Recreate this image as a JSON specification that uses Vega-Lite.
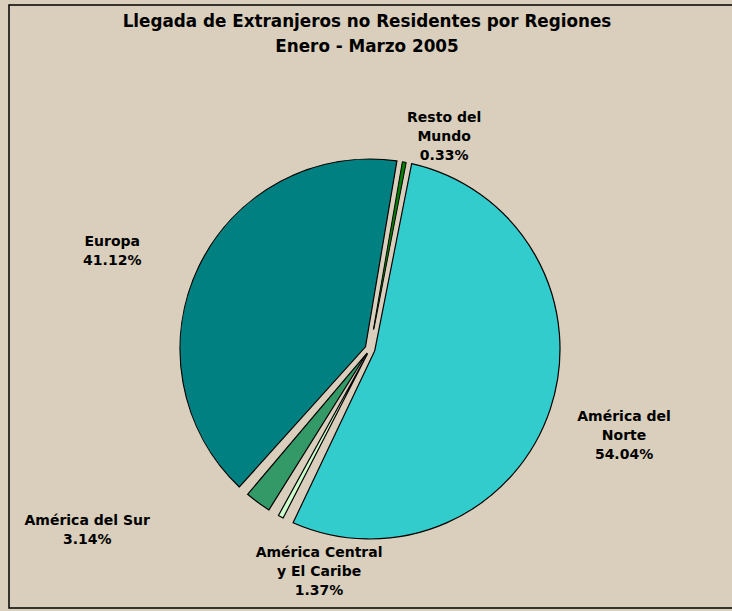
{
  "$schema": "https://vega.github.io/schema/vega-lite/v6.json",
  "autosize": {"type": "fit", "contains": "padding"},
  "width": 732,
  "height": 611,
  "padding": {"left": 8, "top": 4, "right": -10, "bottom": 2},
  "background": "#D9CFBC",
  "title": {
    "text": ["Llegada de Extranjeros no Residentes por Regiones", "Enero - Marzo 2005"],
    "font": "DejaVu Sans",
    "fontSize": 16.8,
    "fontWeight": "bold",
    "lineHeight": 25,
    "color": "#000000",
    "anchor": "middle",
    "offset": -52,
    "dx": -8
  },
  "data": {
    "values": [
      {"region": "América del Norte", "label": "América del|Norte", "value": 54.04, "ord": 1},
      {"region": "América Central y El Caribe", "label": "América Central|y El Caribe", "value": 1.37, "ord": 2},
      {"region": "América del Sur", "label": "América del Sur", "value": 3.14, "ord": 3},
      {"region": "Europa", "label": "Europa", "value": 41.12, "ord": 4},
      {"region": "Resto del Mundo", "label": "Resto del|Mundo", "value": 0.33, "ord": 5}
    ]
  },
  "transform": [
    {"calculate": "datum.label + '|' + format(datum.value, '.2f') + '%'", "as": "txt"}
  ],
  "layer": [
    {
      "data": {"values": [{"frame": 1}]},
      "mark": {"type": "rect", "fill": null, "stroke": "#000000", "strokeWidth": 1.5},
      "encoding": {}
    },
    {
      "mark": {"type": "arc", "outerRadius": 190, "innerRadius": 5, "padAngle": 0.058, "stroke": "#000000", "strokeWidth": 1.2, "strokeJoin": "miter", "xOffset": -5, "yOffset": 42.5},
      "encoding": {
        "theta": {"field": "value", "type": "quantitative", "stack": true, "scale": {"domain": [0, 100], "range": [0.192, 6.475]}},
        "order": {"field": "ord", "type": "quantitative"},
        "color": {
          "field": "region", "type": "nominal", "legend": null,
          "scale": {
            "domain": ["América del Norte", "América Central y El Caribe", "América del Sur", "Europa", "Resto del Mundo"],
            "range": ["#33CCCC", "#CCFFCC", "#339966", "#008080", "#008000"]
          }
        },
        "opacity": {"condition": {"test": "datum.region === 'Resto del Mundo'", "value": 0}, "value": 1}
      }
    },
    {
      "mark": {"type": "arc", "outerRadius": 190, "innerRadius": 20, "stroke": "#000000", "strokeWidth": 1, "strokeJoin": "miter", "xOffset": -5, "yOffset": 42.5},
      "encoding": {
        "theta": {"field": "value", "type": "quantitative", "stack": true},
        "order": {"field": "ord", "type": "quantitative"},
        "color": {"field": "region", "type": "nominal", "legend": null},
        "opacity": {"condition": {"test": "datum.region === 'Resto del Mundo'", "value": 1}, "value": 0}
      }
    },
    {
      "mark": {"type": "text", "radius": 263, "thetaOffset": -0.0572, "dx": -5, "dy": 42.5, "font": "DejaVu Sans", "fontSize": 14, "letterSpacing": 0.6, "fontWeight": "bold", "lineBreak": "|", "lineHeight": 19, "align": "center", "baseline": "middle", "color": "#000000"},
      "encoding": {
        "theta": {"field": "value", "type": "quantitative", "stack": true},
        "order": {"field": "ord", "type": "quantitative"},
        "text": {"condition": {"test": "datum.region === 'América del Norte'", "field": "txt"}, "value": ""}
      }
    },
    {
      "mark": {"type": "text", "radius": 210, "thetaOffset": -0.2438, "dx": -5, "dy": 42.5, "font": "DejaVu Sans", "fontSize": 14, "letterSpacing": 0.6, "fontWeight": "bold", "lineBreak": "|", "lineHeight": 19, "align": "center", "baseline": "middle", "color": "#000000"},
      "encoding": {
        "theta": {"field": "value", "type": "quantitative", "stack": true},
        "order": {"field": "ord", "type": "quantitative"},
        "text": {"condition": {"test": "datum.region === 'América Central y El Caribe'", "field": "txt"}, "value": ""}
      }
    },
    {
      "mark": {"type": "text", "radius": 331, "thetaOffset": 0.3941, "dx": -5, "dy": 42.5, "font": "DejaVu Sans", "fontSize": 14, "letterSpacing": 0.6, "fontWeight": "bold", "lineBreak": "|", "lineHeight": 19, "align": "center", "baseline": "middle", "color": "#000000"},
      "encoding": {
        "theta": {"field": "value", "type": "quantitative", "stack": true},
        "order": {"field": "ord", "type": "quantitative"},
        "text": {"condition": {"test": "datum.region === 'América del Sur'", "field": "txt"}, "value": ""}
      }
    },
    {
      "mark": {"type": "text", "radius": 279, "thetaOffset": -0.0571, "dx": -5, "dy": 42.5, "font": "DejaVu Sans", "fontSize": 14, "letterSpacing": 0.6, "fontWeight": "bold", "lineBreak": "|", "lineHeight": 19, "align": "center", "baseline": "middle", "color": "#000000"},
      "encoding": {
        "theta": {"field": "value", "type": "quantitative", "stack": true},
        "order": {"field": "ord", "type": "quantitative"},
        "text": {"condition": {"test": "datum.region === 'Europa'", "field": "txt"}, "value": ""}
      }
    },
    {
      "mark": {"type": "text", "radius": 243, "thetaOffset": 0.1286, "dx": -5, "dy": 42.5, "font": "DejaVu Sans", "fontSize": 14, "letterSpacing": 0.6, "fontWeight": "bold", "lineBreak": "|", "lineHeight": 19, "align": "center", "baseline": "middle", "color": "#000000"},
      "encoding": {
        "theta": {"field": "value", "type": "quantitative", "stack": true},
        "order": {"field": "ord", "type": "quantitative"},
        "text": {"condition": {"test": "datum.region === 'Resto del Mundo'", "field": "txt"}, "value": ""}
      }
    }
  ],
  "config": {
    "view": {"stroke": null}
  }
}
